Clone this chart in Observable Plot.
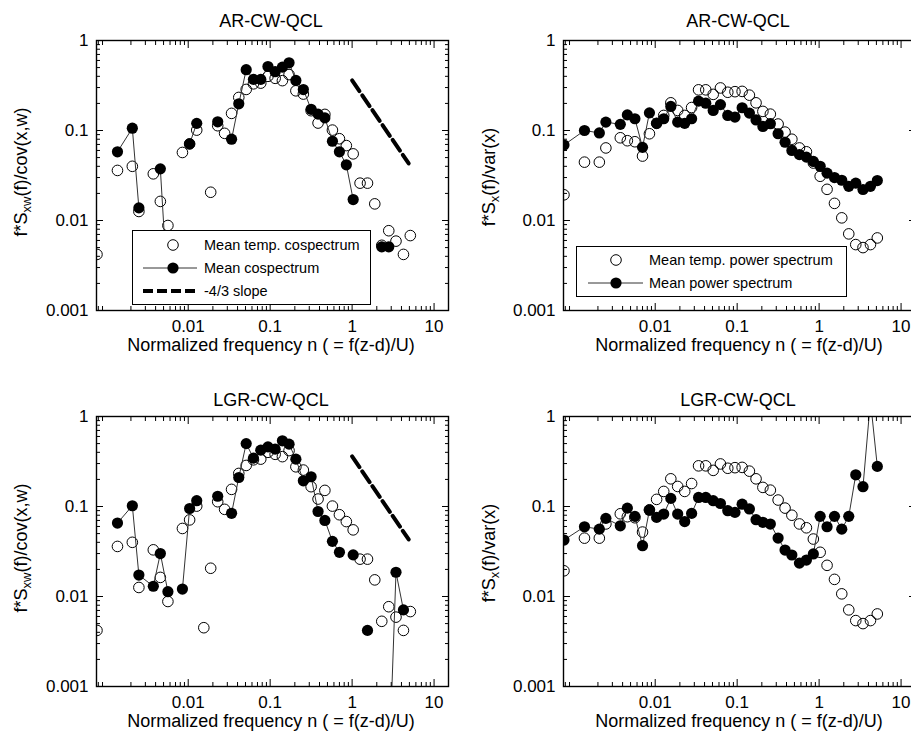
<!DOCTYPE html>
<html><head><meta charset="utf-8">
<script src="https://cdn.jsdelivr.net/npm/d3@7"></script>
<script src="https://cdn.jsdelivr.net/npm/@observablehq/plot@0.6"></script>
<style>
html,body{margin:0;padding:0;background:#fff;}
body{width:911px;height:734px;overflow:hidden;position:relative;font-family:"Liberation Sans",Arial,sans-serif;color:#000;}
.panel{position:absolute;}
.t{position:absolute;transform:translate(-50%,-50%);white-space:nowrap;line-height:1;}
.yl{position:absolute;transform:translate(-50%,-50%) rotate(-90deg);white-space:nowrap;line-height:1;font-size:18px;}
.sub{font-size:0.72em;position:relative;top:0.32em;}
.legend{position:absolute;background:#fff;border:1px solid #000;box-sizing:border-box;}
.legend svg{position:absolute;left:0;top:0;overflow:visible;}
</style></head><body>
<script>
// normalized frequency bins n
const freq = [0.00077, 0.00137, 0.00208, 0.00250, 0.00375, 0.00457, 0.00565, 0.0070, 0.0085, 0.0104,
  0.0127, 0.0155, 0.0188, 0.0229, 0.0278, 0.0338, 0.0414, 0.0510, 0.0625, 0.0768,
  0.094, 0.115, 0.141, 0.170, 0.206, 0.254, 0.316, 0.384, 0.465, 0.575,
  0.70, 0.85, 1.03, 1.25, 1.54, 1.89, 2.30, 2.80, 3.43, 4.23, 5.13];

// mean temperature cospectrum (open circles, left panels)
const tempCospec = [0.0042, 0.036, 0.040, 0.0126, 0.033, 0.0163, 0.0088, null, 0.057, 0.071,
  0.101, 0.0045, 0.0206, 0.113, 0.093, 0.155, 0.233, 0.286, 0.33, 0.336,
  0.40, 0.38, 0.358, 0.418, 0.276, 0.254, 0.166, 0.121, 0.151, 0.101,
  0.081, 0.068, 0.055, 0.026, 0.026, 0.0153, 0.0053, 0.0077, 0.0059, 0.0042, 0.0068];
// AR-CW-QCL mean cospectrum
const arCospec = [null, 0.058, 0.106, 0.0138, null, 0.0375, 0.0015, null, null, 0.071,
  0.12, null, null, 0.125, null, 0.08, 0.198, 0.474, 0.37, 0.37,
  0.514, 0.45, 0.506, 0.565, 0.36, 0.285, 0.172, 0.152, 0.138, 0.076,
  0.058, 0.0416, 0.0171, null, null, null, 0.0051, 0.0051, null, null, null];
// LGR-CW-QCL mean cospectrum
const lgrCospec = [null, 0.0655, 0.102, 0.0173, 0.013, 0.030, 0.0113, null, 0.0121, 0.095,
  0.116, null, null, 0.13, null, 0.084, 0.21, 0.50, 0.345, 0.423,
  0.46, 0.434, 0.537, 0.493, 0.336, 0.193, 0.214, 0.088, 0.070, 0.041,
  0.031, null, 0.029, null, 0.0042, null, null, 0.0001, 0.0186, 0.0071, null];

// mean temperature power spectrum (open circles, right panels)
const tempPower = [0.0193, 0.0445, 0.0445, 0.064, 0.083, 0.077, 0.075, 0.052, 0.092, 0.12,
  0.147, 0.203, 0.167, 0.147, 0.18, 0.283, 0.283, 0.252, 0.297, 0.266,
  0.27, 0.272, 0.247, 0.203, 0.163, 0.152, 0.118, 0.096, 0.08, 0.064,
  0.058, 0.0435, 0.031, 0.0222, 0.0155, 0.0107, 0.0071, 0.0054, 0.005, 0.0054, 0.0064];
// AR-CW-QCL mean power spectrum
const arPower = [0.069, 0.10, 0.094, 0.124, 0.117, 0.149, 0.135, 0.065, 0.157, 0.12,
  0.135, 0.185, 0.124, 0.12, 0.135, 0.212, 0.201, 0.167, 0.194, 0.147,
  0.141, 0.179, 0.156, 0.131, 0.111, 0.119, 0.092, 0.074, 0.06, 0.054,
  0.0506, 0.0453, 0.040, 0.0336, 0.030, 0.028, 0.024, 0.026, 0.0221, 0.024, 0.0278];
// LGR-CW-QCL mean power spectrum
const lgrPower = [0.0424, 0.0596, 0.056, 0.0738, 0.061, 0.096, 0.0777, 0.0367, 0.091, 0.0757,
  0.0824, 0.123, 0.0824, 0.068, 0.0838, 0.126, 0.126, 0.116, 0.108, 0.0898,
  0.086, 0.106, 0.094, 0.0713, 0.0667, 0.0638, 0.0446, 0.0328, 0.0289, 0.0235,
  0.0254, 0.0297, 0.0777, 0.0596, 0.0777, 0.056, 0.0777, 0.225, 0.166, 1.5, 0.279];

// -4/3 slope reference line
const slopeX = [1.0, 4.9];
const slopeY = [0.36, 0.043];

const xTicks = [0.01, 0.1, 1, 10];
const xTickLabels = ["0.01", "0.1", "1", "10"];
const yTicks = [0.001, 0.01, 0.1, 1];
const yTickLabels = ["0.001", "0.01", "0.1", "1"];
const xDomain = [0.00076, 15];
const yDomain = [0.001, 1];

const titles = ["AR-CW-QCL", "AR-CW-QCL", "LGR-CW-QCL", "LGR-CW-QCL"];
const xLabel = "Normalized frequency n ( = f(z-d)/U)";
const legendCo = ["Mean temp. cospectrum", "Mean cospectrum", "-4/3 slope"];
const legendPow = ["Mean temp. power spectrum", "Mean power spectrum"];

function minorTicks(lo, hi) {
  const out = [];
  for (let e = -5; e <= 2; e++) for (let k = 2; k <= 9; k++) {
    const v = k * Math.pow(10, e);
    if (v > lo && v < hi) out.push(v);
  }
  return out;
}
const xMinor = minorTicks(xDomain[0], xDomain[1]);
const yMinor = minorTicks(yDomain[0], yDomain[1]);

function makePanel(cfg) {
  const rows = freq.map((f, i) => ({f, open: cfg.openY[i], mean: cfg.meanY[i]}));
  const slopeRows = slopeX.map((x, i) => ({x, y: slopeY[i]}));
  const ff = "Liberation Sans, Arial, sans-serif";
  const marks = [
    Plot.dot(rows, {x: "f", y: "open", r: 5.3, fill: "none", stroke: "#000", strokeWidth: 1, clip: true}),
    Plot.line(rows, {x: "f", y: "mean", stroke: "#333", strokeWidth: 1, clip: true}),
    Plot.dot(rows, {x: "f", y: "mean", r: 5.6, fill: "#000", stroke: "none", clip: true})
  ];
  if (cfg.slope) marks.push(Plot.line(slopeRows, {x: "x", y: "y", stroke: "#000", strokeWidth: 4, strokeDasharray: "13,5"}));
  marks.push(
    Plot.axisX({anchor: "bottom", ticks: xTicks, tickSize: 0, tickPadding: 9, fontSize: 17, fontFamily: ff, tickFormat: d => xTickLabels[xTicks.indexOf(d)], label: null}),
    Plot.axisX({anchor: "bottom", ticks: xTicks, tickSize: -7, fill: "none", label: null}),
    Plot.axisX({anchor: "top", ticks: xTicks, tickSize: -7, fill: "none", label: null}),
    Plot.axisX({anchor: "bottom", ticks: xMinor, tickSize: -4, fill: "none", label: null}),
    Plot.axisX({anchor: "top", ticks: xMinor, tickSize: -4, fill: "none", label: null}),
    Plot.axisY({anchor: "left", ticks: yTicks, tickSize: 0, tickPadding: 8, fontSize: 17, fontFamily: ff, tickFormat: d => yTickLabels[yTicks.indexOf(d)], label: null}),
    Plot.axisY({anchor: "left", ticks: yTicks, tickSize: -7, fill: "none", label: null}),
    Plot.axisY({anchor: "right", ticks: yTicks, tickSize: -7, fill: "none", label: null}),
    Plot.axisY({anchor: "left", ticks: yMinor, tickSize: -4, fill: "none", label: null}),
    Plot.axisY({anchor: "right", ticks: yMinor, tickSize: -4, fill: "none", label: null}),
    Plot.frame({stroke: "#000", strokeWidth: 1.4})
  );
  const svg = Plot.plot({
    width: cfg.width, height: 365,
    marginLeft: cfg.ml, marginRight: cfg.width - cfg.ml - 352, marginTop: 40, marginBottom: 55,
    x: {type: "log", domain: xDomain},
    y: {type: "log", domain: yDomain},
    style: {fontFamily: ff, fontSize: "17px", color: "#000", background: "transparent"},
    marks
  });
  const div = document.createElement("div");
  div.className = "panel";
  div.style.left = cfg.left + "px";
  div.style.top = cfg.top + "px";
  div.style.width = cfg.width + "px";
  div.style.height = "365px";
  div.appendChild(svg);
  document.body.appendChild(div);
}

function addText(cls, txt, x, y, size, html) {
  const d = document.createElement("div");
  d.className = cls;
  if (html) d.innerHTML = txt; else d.textContent = txt;
  d.style.left = x + "px";
  d.style.top = y + "px";
  if (size) d.style.fontSize = size + "px";
  document.body.appendChild(d);
}

makePanel({openY: tempCospec, meanY: arCospec, slope: true, left: 0, top: 0, width: 460, ml: 96});
makePanel({openY: tempPower, meanY: arPower, slope: false, left: 455, top: 0, width: 470, ml: 108});
makePanel({openY: tempCospec, meanY: lgrCospec, slope: true, left: 0, top: 376, width: 460, ml: 96});
makePanel({openY: tempPower, meanY: lgrPower, slope: false, left: 455, top: 376, width: 470, ml: 108});

addText("t", titles[0], 271, 20.5, 18);
addText("t", titles[1], 738, 20.5, 18);
addText("t", titles[2], 271, 400, 18);
addText("t", titles[3], 738, 400, 18);
addText("t", xLabel, 271, 345, 18);
addText("t", xLabel, 739, 345, 18);
addText("t", xLabel, 271, 721, 18);
addText("t", xLabel, 739, 721, 18);
const ylCo = 'f*S<span class="sub">xw</span>(f)/cov(x,w)';
const ylPow = 'f*S<span class="sub">x</span>(f)/var(x)';
addText("yl", ylCo, 21, 172, null, true);
addText("yl", ylPow, 489, 177, null, true);
addText("yl", ylCo, 21, 548, null, true);
addText("yl", ylPow, 489, 553, null, true);

// legends
function legend(left, top, w, h, items) {
  const d = document.createElement("div");
  d.className = "legend";
  d.style.left = left + "px"; d.style.top = top + "px";
  d.style.width = w + "px"; d.style.height = h + "px";
  const ns = "http://www.w3.org/2000/svg";
  const svg = document.createElementNS(ns, "svg");
  svg.setAttribute("width", w); svg.setAttribute("height", h);
  for (const it of items) {
    const yy = it.y - top - 1;
    if (it.kind === "open" || it.kind === "mean") {
      if (it.kind === "mean") {
        const l = document.createElementNS(ns, "line");
        l.setAttribute("x1", it.lx1 - left - 1); l.setAttribute("x2", it.lx2 - left - 1);
        l.setAttribute("y1", yy); l.setAttribute("y2", yy);
        l.setAttribute("stroke", "#333"); l.setAttribute("stroke-width", 1);
        svg.appendChild(l);
      }
      const c = document.createElementNS(ns, "circle");
      c.setAttribute("cx", it.cx - left - 1); c.setAttribute("cy", yy);
      c.setAttribute("r", it.kind === "mean" ? 5.6 : 5.3);
      c.setAttribute("fill", it.kind === "mean" ? "#000" : "none");
      c.setAttribute("stroke", it.kind === "mean" ? "none" : "#000");
      svg.appendChild(c);
    } else {
      const l = document.createElementNS(ns, "line");
      l.setAttribute("x1", it.lx1 - left - 1); l.setAttribute("x2", it.lx2 - left - 1);
      l.setAttribute("y1", yy); l.setAttribute("y2", yy);
      l.setAttribute("stroke", "#000"); l.setAttribute("stroke-width", 4);
      l.setAttribute("stroke-dasharray", "10,4");
      svg.appendChild(l);
    }
    const t = document.createElementNS(ns, "text");
    t.setAttribute("x", it.tx - left - 1);
    t.setAttribute("y", yy + 5.2);
    t.setAttribute("font-size", 14.5);
    t.setAttribute("font-family", "Liberation Sans, Arial, sans-serif");
    t.textContent = it.label;
    svg.appendChild(t);
  }
  d.appendChild(svg);
  document.body.appendChild(d);
}
legend(132, 230, 239, 75, [
  {kind: "open", y: 245, cx: 173, tx: 204, label: legendCo[0]},
  {kind: "mean", y: 268, cx: 173, lx1: 143, lx2: 197, tx: 204, label: legendCo[1]},
  {kind: "slope", y: 291, lx1: 143, lx2: 196, tx: 204, label: legendCo[2]}
]);
legend(576, 246, 271, 51, [
  {kind: "open", y: 260, cx: 616, tx: 649, label: legendPow[0]},
  {kind: "mean", y: 283, cx: 616, lx1: 588, lx2: 643, tx: 649, label: legendPow[1]}
]);
</script>
</body></html>
